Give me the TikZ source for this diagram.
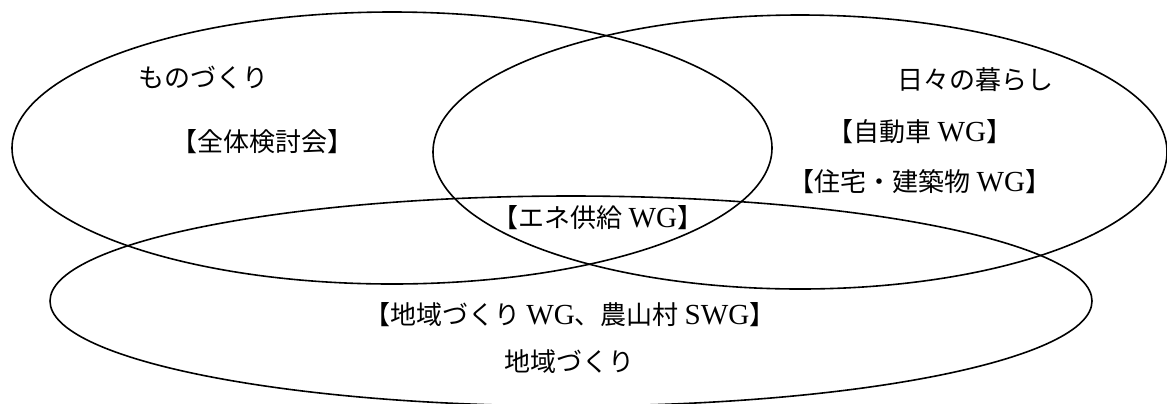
\documentclass[tikz,border=0pt]{standalone}
\usepackage{fontspec}
\setmainfont{Noto Sans CJK JP}
\newfontfamily\wgfont[Scale=1.12]{Liberation Serif}
\newcommand\wg[1]{{\wgfont #1}}
\tikzset{
  circle line/.style={draw=black,line width=0.8pt},
  area label/.style={inner sep=0pt,font=\fontsize{13}{15}\selectfont},
}

\begin{document}
\begin{tikzpicture}[x=0.5pt,y=-0.5pt]
        \useasboundingbox (0,0) rectangle (1167,403);
        \path [circle line] (392,148) ellipse [x radius=380, y radius=136];
        \path [circle line] (800,152) ellipse [x radius=367, y radius=137];
        \path [circle line] (571,301) ellipse [x radius=521, y radius=105];
        \node[area label] (monozukuri) at (203,78) {ものづくり};
        \node[area label] (zentai) at (262,142) {【全体検討会】};
        \node[area label] (kurashi) at (975,80) {日々の暮らし};
        \node[area label] (jidosha) at (920,132) {【自動車 \wg{WG}】};
        \node[area label] (jutaku) at (920,182) {【住宅・建築物 \wg{WG}】};
        \node[area label] (ene) at (598,218) {【エネ供給 \wg{WG}】};
        \node[area label] (chiikiwg) at (570,315) {【地域づくり \wg{WG}、農山村 \wg{SWG}】};
        \node[area label] (chiiki) at (569,362) {地域づくり};
      \end{tikzpicture}
\end{document}
